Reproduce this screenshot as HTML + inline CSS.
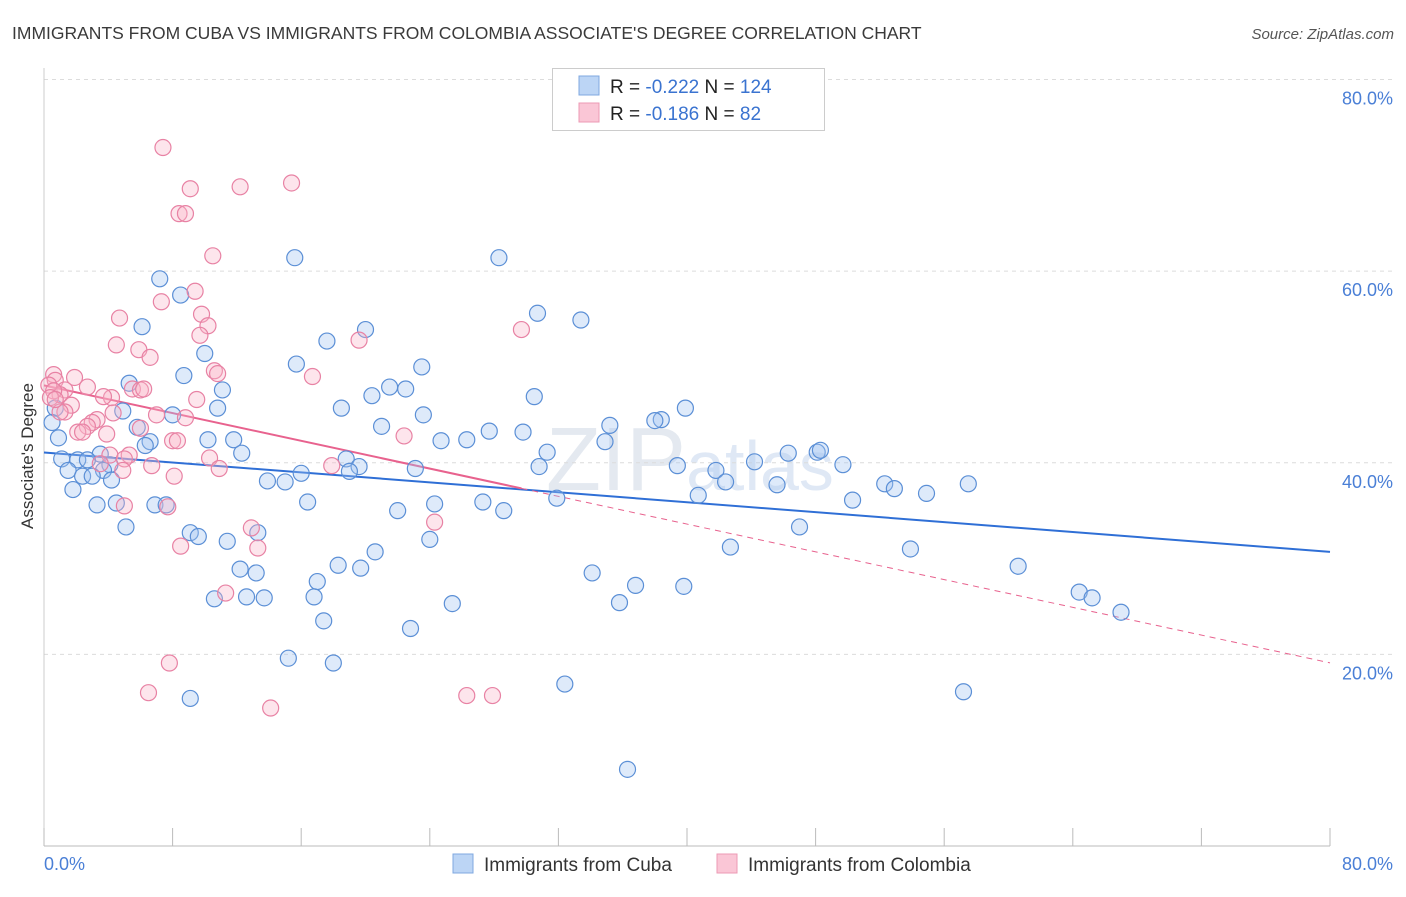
<!DOCTYPE html>
<html><head><meta charset="utf-8"><style>
body{margin:0;background:#fff;font-family:"Liberation Sans",sans-serif;}
svg text{font-family:"Liberation Sans",sans-serif;}
</style></head><body>
<svg id="chart" width="1406" height="892" xmlns="http://www.w3.org/2000/svg">
<text x="12" y="39" font-size="17.5" fill="#3a3a3a">IMMIGRANTS FROM CUBA VS IMMIGRANTS FROM COLOMBIA ASSOCIATE'S DEGREE CORRELATION CHART</text>
<text x="1394" y="39" font-size="15" fill="#555" font-style="italic" text-anchor="end">Source: ZipAtlas.com</text>
<text x="33" y="456" font-size="17" fill="#333" text-anchor="middle" transform="rotate(-90 33 456)">Associate's Degree</text>
<text x="690" y="490" font-size="90" fill="#e4e9f0" text-anchor="middle" font-family="Liberation Serif">ZIP<tspan font-size="70" fill="#dfe8f5" font-family="Liberation Sans">atlas</tspan></text>
<g id="grid"></g><g id="trend"></g><g id="pts"></g>
<g>
<rect x="552.5" y="68.5" width="272" height="62" fill="#fff" stroke="#ccc"/>
<rect x="579" y="76" width="20" height="19" fill="#bcd5f5" stroke="#7fa8e0"/>
<rect x="579" y="103" width="20" height="19" fill="#fac6d6" stroke="#ec9ab4"/>
<text x="610" y="93" font-size="19" fill="#222">R = <tspan fill="#3a73d0">-0.222</tspan>   N = <tspan fill="#3a73d0">124</tspan></text>
<text x="610" y="120" font-size="19" fill="#222">R =  <tspan fill="#3a73d0">-0.186</tspan>   N =   <tspan fill="#3a73d0">82</tspan></text>
</g>
<g>
<rect x="453" y="854" width="20" height="19" fill="#bcd5f5" stroke="#7fa8e0"/>
<text x="484" y="871" font-size="19" fill="#333">Immigrants from Cuba</text>
<rect x="717" y="854" width="20" height="19" fill="#fac6d6" stroke="#ec9ab4"/>
<text x="748" y="871" font-size="19" fill="#333">Immigrants from Colombia</text>
</g>
</svg>
<script>
const cubaX=[15.6,28.3,7.2,8.5,6.1,30.7,33.4,20.0,17.6,10.0,15.7,23.5,8.7,5.3,21.5,22.5,11.1,20.4,30.5,0.7,10.8,4.9,18.5,8.0,23.6,39.9,38.4,38.0,0.5,21.0,35.2,5.8,27.7,29.8,0.9,10.2,11.8,34.9,24.7,26.3,6.6,6.3,31.3,12.3,1.1,3.5,2.1,2.7,18.8,48.1,48.3,46.3,44.2,1.5,30.8,39.4,49.7,19.6,19.0,23.1,41.8,4.1,3.7,2.4,3.0,4.2,16.0,13.9,15.0,42.4,45.6,52.3,52.9,57.5,54.9,1.8,40.7,31.9,50.3,3.3,4.5,6.9,7.6,16.4,24.3,27.3,28.6,22.0,5.1,9.1,9.6,11.4,13.3,24.0,47.0,42.7,53.9,20.6,18.3,12.2,13.2,19.7,34.1,60.6,17.0,36.8,39.8,10.6,12.6,13.7,16.8,25.4,35.8,64.4,65.2,67.0,17.4,22.8,15.2,18.0,32.4,9.1,57.2,36.3];
const cubaY=[61.4,61.4,59.2,57.5,54.2,55.6,54.9,53.9,52.7,51.4,50.3,50.0,49.1,48.3,47.9,47.7,47.6,47.0,46.9,45.7,45.7,45.4,45.7,45.0,45.0,45.7,44.5,44.4,44.2,43.8,43.9,43.7,43.3,43.2,42.6,42.4,42.4,42.2,42.3,42.4,42.2,41.8,41.1,41.0,40.4,40.9,40.3,40.3,40.4,41.1,41.3,41.0,40.1,39.2,39.6,39.7,39.8,39.6,39.1,39.4,39.2,39.8,39.2,38.6,38.6,38.2,38.9,38.1,38.0,38.0,37.7,37.8,37.3,37.8,36.8,37.2,36.6,36.3,36.1,35.6,35.8,35.6,35.6,35.9,35.7,35.9,35.0,35.0,33.3,32.7,32.3,31.8,32.7,32.0,33.3,31.2,31.0,30.7,29.3,28.9,28.5,29.0,28.5,29.2,27.6,27.2,27.1,25.8,26.0,25.9,26.0,25.3,25.4,26.5,25.9,24.4,23.5,22.7,19.6,19.1,16.9,15.4,16.1,8.0];
const colX=[7.4,15.4,12.2,9.1,8.4,8.8,10.5,9.4,7.3,9.8,4.7,10.2,9.7,4.5,5.9,6.6,19.6,29.7,10.6,10.8,16.7,0.6,0.7,1.9,2.7,1.3,5.5,6.0,6.2,1.0,0.3,0.6,0.4,9.5,4.2,3.7,1.7,1.3,4.3,7.0,8.8,3.3,3.0,2.7,6.0,2.1,2.4,3.9,8.0,8.3,22.4,10.3,5.3,4.1,5.0,6.7,10.9,17.9,4.9,8.1,7.7,5.0,24.3,12.9,13.3,8.5,11.3,7.8,6.5,26.3,27.9,14.1,3.5,1.0,0.7];
const colY=[72.9,69.2,68.8,68.6,66.0,66.0,61.6,57.9,56.8,55.5,55.1,54.3,53.3,52.3,51.8,51.0,52.8,53.9,49.6,49.3,49.0,49.2,48.6,48.9,47.9,47.6,47.7,47.6,47.7,47.1,48.1,47.5,46.8,46.6,46.8,46.9,46.0,45.3,45.2,45.0,44.7,44.5,44.2,43.8,43.6,43.2,43.2,43.0,42.3,42.3,42.8,40.5,40.8,40.8,40.4,39.7,39.4,39.7,39.2,38.6,35.4,35.5,33.8,33.2,31.1,31.3,26.4,19.1,16.0,15.7,15.7,14.4,39.9,45.3,46.6];
const yTicks=[20,40,60,80];
const yTickLabels=["20.0%","40.0%","60.0%","80.0%"];
const xTicks=[0,8,16,24,32,40,48,56,64,72,80];
const NS="http://www.w3.org/2000/svg";
const X0=44,X1=1330,Y0=846,Y80=79.5;
const sx=v=>X0+(X1-X0)*v/80;
const sy=v=>Y0-(Y0-Y80)*v/80;
function mk(tag,attrs,parent){const e=document.createElementNS(NS,tag);for(const k in attrs)e.setAttribute(k,attrs[k]);parent.appendChild(e);return e;}
const grid=document.getElementById('grid');
yTicks.forEach((t,i)=>{
  const l=mk('line',{x1:X0,x2:1394,y1:sy(t),y2:sy(t),stroke:'#dcdcdc','stroke-dasharray':'4,4'},grid);
  
  
  const tx=mk('text',{x:1393,y:sy(t)+25,'font-size':18,fill:'#4a7fd6','text-anchor':'end'},grid);
  tx.textContent=yTickLabels[i];
  
  
});
const ax=mk('line',{x1:X0,x2:X1,y1:Y0,y2:Y0,stroke:'#bbb'},grid);


const ay=mk('line',{x1:X0,x2:X0,y1:68,y2:Y0,stroke:'#ccc'},grid);


xTicks.forEach(t=>{
  const l=mk('line',{x1:sx(t),x2:sx(t),y1:Y0,y2:Y0-18,stroke:'#bbb'},grid);
  
  
});
const xl=mk('text',{x:44,y:870,'font-size':18,fill:'#4a7fd6'},grid);xl.textContent='0.0%';


const xr=mk('text',{x:1393,y:870,'font-size':18,fill:'#4a7fd6','text-anchor':'end'},grid);xr.textContent='80.0%';


function fit(xs,ys){const n=xs.length;let mx=0,my=0;for(let i=0;i<n;i++){mx+=xs[i];my+=ys[i];}mx/=n;my/=n;let a=0,b=0;for(let i=0;i<n;i++){a+=(xs[i]-mx)*(ys[i]-my);b+=(xs[i]-mx)**2;}const s=a/b;return x=>my+s*(x-mx);}
const tr=document.getElementById('trend');
const pts=document.getElementById('pts');
function dots(xs,ys,fill,stroke,name){xs.forEach((x,i)=>{const c=mk('circle',{cx:sx(x),cy:sy(ys[i]),r:8,fill:fill,stroke:stroke,'stroke-width':1.2},pts);

});}
dots(cubaX,cubaY,'rgba(160,195,240,0.35)','#5b8fd6','point-cuba');
dots(colX,colY,'rgba(248,180,200,0.35)','#e882a4','point-colombia');
const fc=fit(cubaX,cubaY);
const lc=mk('line',{x1:sx(0),y1:sy(fc(0)),x2:sx(80),y2:sy(fc(80)),stroke:'#2f6fd6','stroke-width':2},tr);


const fp=fit(colX,colY);const mxp=Math.max(...colX);
const lp=mk('line',{x1:sx(0),y1:sy(fp(0)),x2:sx(mxp),y2:sy(fp(mxp)),stroke:'#e8628e','stroke-width':2},tr);


const lpd=mk('line',{x1:sx(mxp),y1:sy(fp(mxp)),x2:sx(80),y2:sy(fp(80)),stroke:'#e8628e','stroke-width':1,'stroke-dasharray':'6,5'},tr);


</script>
</body></html>
